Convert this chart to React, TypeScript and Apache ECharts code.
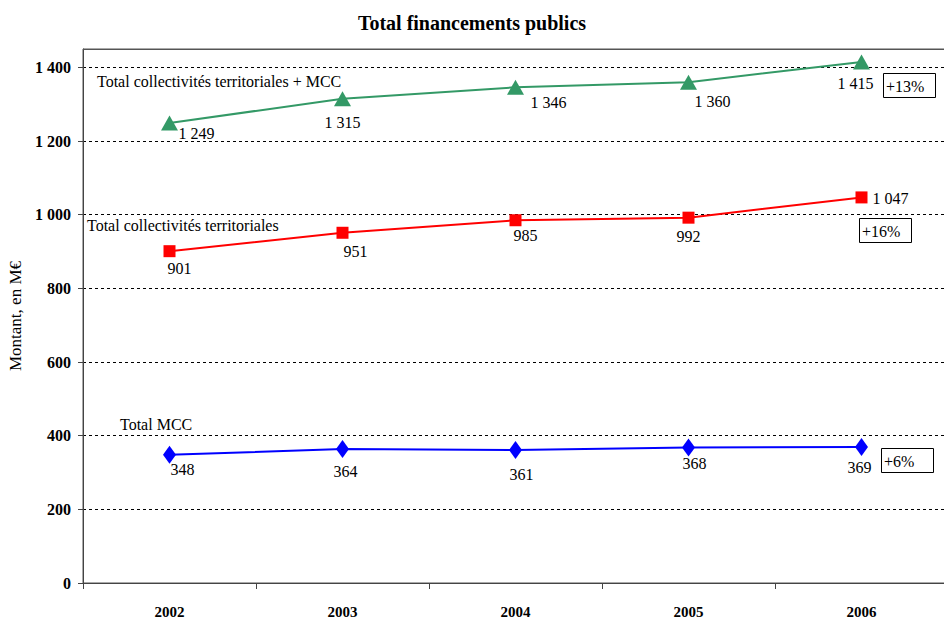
import React, { useEffect, useRef } from "react";
import * as echarts from "echarts";

const years = ["2002", "2003", "2004", "2005", "2006"];
const totalCtMcc = [1249, 1315, 1346, 1360, 1415];
const totalCt = [901, 951, 985, 992, 1047];
const totalMcc = [348, 364, 361, 368, 369];
const yTicks = [0, 200, 400, 600, 800, 1000, 1200, 1400];

// label offsets (layout only)
const offGreen = [[27, 10], [0, 24], [33, 15], [24, 19], [-6, 22]];
const offRed = [[10, 17], [13, 19], [10, 15], [0, 19], [29, 1]];
const offBlue = [[13, 15], [3, 23], [6, 24], [6, 16], [-2, 20]];

const fmt = (v: number) => String(v).replace(/\B(?=(\d{3})+(?!\d))/g, " ");
const FONT = "Liberation Serif, Times New Roman, serif";

function mkData(vals: number[], offs: number[][]) {
  return vals.map((v, i) => ({ value: v, label: { offset: offs[i] } }));
}

export default function App() {
  const ref = useRef<HTMLDivElement>(null);
  useEffect(() => {
    if (!ref.current) return;
    const chart = echarts.init(ref.current, null, { renderer: "svg" });
    const labelBase = {
      show: true,
      position: "inside",
      color: "#000",
      fontFamily: FONT,
      fontSize: 16,
      formatter: (p: any) => fmt(p.value),
    };
    const boxes = [
      { x: 883, y: 73, w: 52, h: 24, t: "+13%" },
      { x: 859, y: 218, w: 52, h: 24, t: "+16%" },
      { x: 881, y: 448, w: 52, h: 24, t: "+6%" },
    ];
    const notes = [
      { x: 97, y: 81, t: "Total collectivités territoriales + MCC" },
      { x: 87, y: 225, t: "Total collectivités territoriales" },
      { x: 120, y: 424, t: "Total MCC" },
    ];
    chart.setOption({
      animation: false,
      backgroundColor: "#fff",
      textStyle: { fontFamily: FONT },
      title: {
        text: "Total financements publics",
        left: "center",
        top: 8,
        textStyle: { fontFamily: FONT, fontSize: 20, fontWeight: "bold", color: "#000" },
      },
      grid: {
        left: 83,
        right: -4,
        top: 49,
        bottom: 35,
        show: true,
        borderColor: "#555",
        borderWidth: 1,
        containLabel: false,
        outerBoundsMode: "none",
      },
      xAxis: {
        type: "category",
        data: years,
        boundaryGap: true,
        axisLine: { lineStyle: { color: "#444", width: 1 } },
        axisTick: { show: true, length: 6, lineStyle: { color: "#444" } },
        axisLabel: {
          margin: 21,
          color: "#000",
          fontFamily: FONT,
          fontSize: 15,
          fontWeight: "bold",
        },
      },
      yAxis: {
        type: "value",
        min: 0,
        max: 1450,
        interval: 200,
        name: "Montant, en M€",
        nameLocation: "middle",
        nameGap: 58,
        nameTextStyle: { fontFamily: FONT, fontSize: 17, color: "#000" },
        axisLine: { show: true, lineStyle: { color: "#444" } },
        axisTick: { show: true, length: 5, customValues: yTicks, lineStyle: { color: "#444" } },
        axisLabel: {
          customValues: yTicks,
          margin: 12,
          color: "#000",
          fontFamily: FONT,
          fontSize: 16,
          fontWeight: "bold",
          formatter: (v: number) => fmt(v),
        },
        splitLine: {
          show: true,
          lineStyle: { color: "#000", type: [3, 3], width: 1 },
        },
      },
      series: [
        {
          name: "Total collectivités territoriales + MCC",
          type: "line",
          data: mkData(totalCtMcc, offGreen),
          symbol: "triangle",
          symbolSize: [17, 15],
          itemStyle: { color: "#339966" },
          lineStyle: { color: "#339966", width: 2 },
          label: labelBase,
          z: 3,
        },
        {
          name: "Total collectivités territoriales",
          type: "line",
          data: mkData(totalCt, offRed),
          symbol: "rect",
          symbolSize: 12,
          itemStyle: { color: "#ff0000" },
          lineStyle: { color: "#ff0000", width: 2 },
          label: labelBase,
          z: 3,
        },
        {
          name: "Total MCC",
          type: "line",
          data: mkData(totalMcc, offBlue),
          symbol: "diamond",
          symbolSize: [13, 18],
          itemStyle: { color: "#0000ff" },
          lineStyle: { color: "#0000ff", width: 2 },
          label: labelBase,
          z: 3,
        },
      ],
      graphic: [
        {
          type: "line",
          shape: { x1: 83, y1: 49.5, x2: 944, y2: 49.5 },
          style: { stroke: "#555", lineWidth: 1 },
          z: 5,
        },
        ...notes.map((n) => ({
          type: "text",
          x: n.x,
          y: n.y,
          style: {
            text: n.t,
            fontFamily: FONT,
            fontSize: 16,
            fill: "#000",
            align: "left",
            verticalAlign: "middle",
          },
          z: 6,
        })),
        ...boxes.flatMap((b) => [
          {
            type: "rect",
            shape: { x: b.x + 0.5, y: b.y + 0.5, width: b.w, height: b.h },
            style: { fill: "#fff", stroke: "#000", lineWidth: 1 },
            z: 10,
          },
          {
            type: "text",
            x: b.x + 3,
            y: b.y + b.h / 2 + 1,
            style: {
              text: b.t,
              fontFamily: FONT,
              fontSize: 16,
              fill: "#000",
              verticalAlign: "middle",
              align: "left",
            },
            z: 11,
          },
        ]),
      ],
    });
    return () => chart.dispose();
  }, []);
  return (
    <div
      ref={ref}
      style={{ position: "fixed", left: 0, top: 0, width: 944, height: 618, background: "#fff" }}
    />
  );
}
